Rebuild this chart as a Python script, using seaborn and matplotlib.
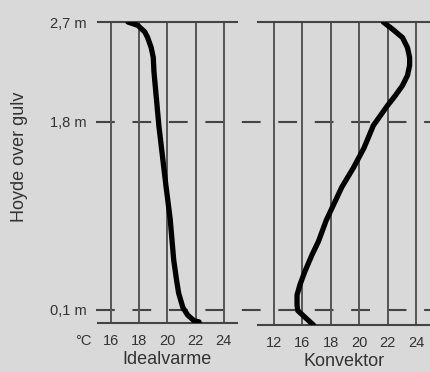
import matplotlib
matplotlib.use("Agg")
import matplotlib.pyplot as plt
import matplotlib.transforms as mtransforms
from matplotlib.lines import Line2D
import pandas as pd
import seaborn as sns

# ---- data ----
height_ideal = [2.70, 2.67, 2.61, 2.56, 2.47, 2.38, 2.25, 1.76, 1.22, 0.92,
                0.55, 0.37, 0.25, 0.12, 0.05, 0.00, -0.01]
temp_ideal = [17.2, 17.9, 18.4, 18.6, 18.85, 19.0, 19.05, 19.4, 19.9, 20.2,
              20.45, 20.65, 20.8, 21.1, 21.45, 21.9, 22.25]

height_konv = [2.70, 2.63, 2.56, 2.47, 2.38, 2.31, 2.22, 2.13, 2.04, 1.95,
               1.86, 1.77, 1.57, 1.39, 1.22, 0.92, 0.73, 0.61, 0.46, 0.34,
               0.25, 0.16, 0.11, 0.05, -0.02]
temp_konv = [21.7, 22.4, 23.05, 23.4, 23.55, 23.55, 23.4, 23.05, 22.55, 22.0,
             21.5, 21.0, 20.35, 19.6, 18.8, 17.7, 17.15, 16.7, 16.2, 15.85,
             15.65, 15.65, 15.7, 16.2, 16.8]

ticks_ideal = [16, 18, 20, 22, 24]
ticklabels_ideal = ["16", "18", "20", "22", "24"]
ticks_konv = [14, 16, 18, 20, 22, 24]
ticklabels_konv = ["12", "16", "18", "20", "22", "24"]
height_ticks = [0.1, 1.8, 2.7]
height_ticklabels = ["0,1 m", "1,8 m", "2,7 m"]
dashed_levels = [1.8, 0.1]
label_ideal = "Idealvarme"
label_konv = "Konvektor"
ylabel = "Hoyde over gulv"
unit_label = "°C"

# ---- style ----
sns.set_theme(style="white")
plt.rcParams["font.family"] = ["Liberation Sans", "DejaVu Sans"]
BG = "#d9d9d9"
TXT = "#333333"
GRID = "#555555"

W, H = 430, 372
fig = plt.figure(figsize=(W / 100, H / 100), dpi=100)
fig.patch.set_facecolor(BG)

ax1 = fig.add_axes([98 / W, 1 - 323 / H, 139 / W, 301 / H])
ax2 = fig.add_axes([258 / W, 1 - 325 / H, 172 / W, 303 / H])

df_ideal = pd.DataFrame({"temp": temp_ideal, "height": height_ideal})
df_konv = pd.DataFrame({"temp": temp_konv, "height": height_konv})

for ax, df, xlim, ticks, tlabels, xlabel in [
    (ax1, df_ideal, (15.08, 24.94), ticks_ideal, ticklabels_ideal, label_ideal),
    (ax2, df_konv, (12.91, 24.98), ticks_konv, ticklabels_konv, label_konv),
]:
    ax.set_facecolor("none")
    sns.lineplot(data=df, x="temp", y="height", orient="y", sort=False,
                 estimator=None, color="black", linewidth=3.8,
                 solid_capstyle="round", solid_joinstyle="round", ax=ax, zorder=5)
    ax.set_xlim(*xlim)
    ax.set_ylim(-0.02, 2.7)
    ax.set_xticks(ticks)
    ax.set_xticklabels(tlabels)
    ax.grid(axis="x", color=GRID, linewidth=1.4)
    ax.grid(axis="y", visible=False)
    for side in ["left", "right"]:
        ax.spines[side].set_visible(False)
    for side in ["top", "bottom"]:
        ax.spines[side].set_visible(True)
        ax.spines[side].set_color("#444444")
        ax.spines[side].set_linewidth(1.5)
    ax.tick_params(axis="x", length=0, pad=8, labelsize=10.5, labelcolor=TXT)
    ax.set_xlabel(xlabel, fontsize=13, color=TXT, labelpad=2)
    ax.set_ylabel("")

ax1.set_yticks(height_ticks)
ax1.set_yticklabels(height_ticklabels)
ax1.tick_params(axis="y", length=0, pad=8, labelsize=10.5, labelcolor=TXT)
ax2.set_yticks([])

# dashed reference levels spanning both panels
trans = mtransforms.blended_transform_factory(fig.transFigure, ax1.transData)
for lvl in dashed_levels:
    ln = Line2D([96 / W, 1.0], [lvl, lvl], transform=trans, color="#444444",
                linewidth=1.5, linestyle=(0, (9.0, 8.5)), zorder=-1)
    fig.add_artist(ln)

fig.text(20 / W, 1 - 157 / H, ylabel, rotation=90, ha="center", va="center",
         fontsize=13, color=TXT)
fig.text(83 / W, 1 - 341 / H, unit_label, ha="center", va="center",
         fontsize=10.5, color=TXT)

fig.savefig("out.png", dpi=100, facecolor=BG)
